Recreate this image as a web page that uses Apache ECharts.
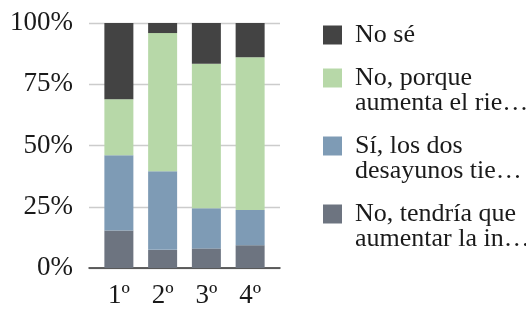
<!DOCTYPE html>
<html>
<head>
<meta charset="utf-8">
<script src="https://cdn.jsdelivr.net/npm/echarts@6/dist/echarts.min.js"></script>
<style>
  html, body { margin: 0; padding: 0; background: #fff; }
  #chart { width: 526px; height: 309px; }
</style>
</head>
<body>
<div id="chart"></div>
<script>
  // datos (porcentajes)
  var cursos = ['1º', '2º', '3º', '4º'];
  var noTendria = [15.3, 7.4, 8.0, 9.3];
  var siLosDos = [30.7, 32.1, 16.4, 14.4];
  var noPorque = [22.9, 56.4, 59.0, 62.3];
  var noSe = [31.1, 4.1, 16.6, 14.0];
  var nombres = ['No, tendría que aumentar la in…', 'Sí, los dos desayunos tie…', 'No, porque aumenta el rie…', 'No sé'];
  var etiquetas = {
    'No sé': 'No sé',
    'No, porque aumenta el rie…': '\nNo, porque\naumenta el rie…',
    'Sí, los dos desayunos tie…': '\nSí, los dos\ndesayunos tie…',
    'No, tendría que aumentar la in…': '\nNo, tendría que\naumentar la in…'
  };
  var yTicks = [0, 25, 50, 75, 100];

  var colores = ['#6d7480', '#7e9bb5', '#b7d8a8', '#434343'];
  var fuente = '"Liberation Serif", "Times New Roman", serif';

  var myChart = echarts.init(document.getElementById('chart'));

  function serie(i, datos) {
    return {
      name: nombres[i],
      type: 'bar',
      stack: 'total',
      xAxisIndex: 1,
      yAxisIndex: 1,
      barWidth: 29,
      itemStyle: { color: colores[i] },
      data: datos
    };
  }

  var option = {
    animation: false,
    textStyle: { fontFamily: fuente },
    legend: {
      orient: 'vertical',
      left: 323,
      top: 22,
      padding: 0,
      itemGap: -8,
      itemWidth: 19,
      itemHeight: 19,
      icon: 'rect',
      selectedMode: false,
      data: nombres.slice().reverse(),
      formatter: function (n) { return etiquetas[n]; },
      textStyle: {
        fontFamily: fuente,
        fontSize: 26,
        lineHeight: 25,
        color: '#1a1a1a',
        padding: [0, 0, 0, 8]
      }
    },
    grid: [
      { left: 89, right: 246, top: 23, bottom: 41 },
      { left: 97, width: 175, top: 23, bottom: 41 }
    ],
    xAxis: [
      {
        type: 'category',
        gridIndex: 0,
        data: cursos,
        axisLine: { lineStyle: { color: '#333', width: 1.5 } },
        axisTick: { show: false },
        axisLabel: { show: false }
      },
      {
        type: 'category',
        gridIndex: 1,
        data: cursos,
        axisLine: { show: false },
        axisTick: { show: false },
        axisLabel: {
          margin: 14,
          fontFamily: fuente,
          fontSize: 27,
          color: '#1a1a1a'
        }
      }
    ],
    yAxis: [
      {
        type: 'value',
        gridIndex: 0,
        min: yTicks[0],
        max: yTicks[yTicks.length - 1],
        interval: 25,
        axisLine: { show: false },
        axisTick: { show: false },
        splitLine: { lineStyle: { color: '#cccccc', width: 1.3 } },
        axisLabel: {
          margin: 16,
          fontFamily: fuente,
          fontSize: 27,
          color: '#1a1a1a',
          formatter: '{value}%'
        }
      },
      {
        type: 'value',
        gridIndex: 1,
        min: 0,
        max: 100,
        show: false
      }
    ],
    series: [
      serie(0, noTendria),
      serie(1, siLosDos),
      serie(2, noPorque),
      serie(3, noSe)
    ]
  };

  myChart.setOption(option);
</script>
</body>
</html>
